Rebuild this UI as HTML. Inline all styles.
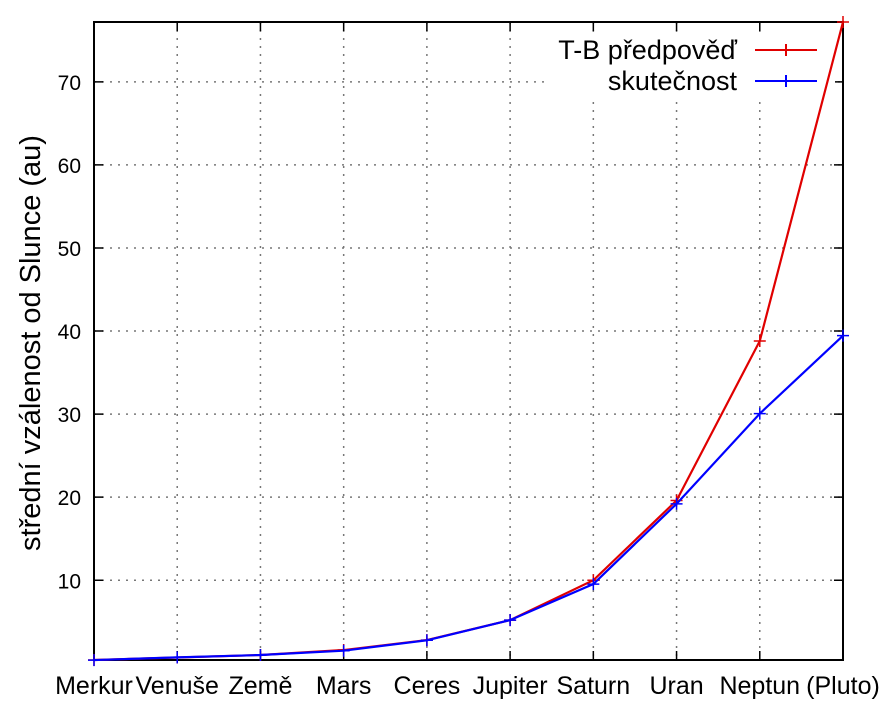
<!DOCTYPE html>
<html><head><meta charset="utf-8"><style>
body{margin:0;background:#fff}
svg text{font-family:"Liberation Sans",sans-serif;fill:#000}
</style></head><body>
<svg id="c" width="894" height="713"></svg>
<script>
const categories=["Merkur","Venuše","Země","Mars","Ceres","Jupiter","Saturn","Uran","Neptun","(Pluto)"];
const tbValues=[0.4,0.7,1.0,1.6,2.8,5.2,10.0,19.6,38.8,77.2];
const realValues=[0.39,0.72,1.0,1.52,2.77,5.2,9.54,19.2,30.06,39.44];
const yTicks=[10,20,30,40,50,60,70];
const seriesNames=["T-B předpověď","skutečnost"];
const L=94,R=843,T=22,B=660,Y0=0.4,Y1=77.2;
const NS="http://www.w3.org/2000/svg";
const svg=document.getElementById('c');
function x(i){return L+i*(R-L)/(categories.length-1);}
function y(v){return B-(v-Y0)*(B-T)/(Y1-Y0);}
function mk(t,a,p){const e=document.createElementNS(NS,t);for(const k in a)e.setAttribute(k,a[k]);(p||svg).appendChild(e);return e;}
categories.forEach((c,i)=>{
 if(i>0&&i<categories.length-1){
  const g=mk('line',{x1:x(i),x2:x(i),y1:T,y2:B,stroke:'#777','stroke-dasharray':'2,6','stroke-width':1.5});
  
  
 }
 const tk=mk('path',{d:`M${x(i)},${B}v-9M${x(i)},${T}v9`,stroke:'#000','stroke-width':1.5});
 
 
 const t=mk('text',{x:x(i),y:694,'text-anchor':'middle','font-size':25});
 t.textContent=c;
 
 
});
yTicks.forEach(v=>{
 const g=mk('line',{x1:L,x2:R,y1:y(v),y2:y(v),stroke:'#777','stroke-dasharray':'2,6','stroke-width':1.5});
 
 
 const tk=mk('path',{d:`M${L},${y(v)}h9M${R},${y(v)}h-9`,stroke:'#000','stroke-width':1.5});
 
 
 const t=mk('text',{x:81,y:y(v)+8,'text-anchor':'end','font-size':21});
 t.textContent=v;
 
 
});
const lb=mk('rect',{x:545,y:32,width:290,height:68,fill:'#fff'});


const fr=mk('rect',{x:L,y:T,width:R-L,height:B-T,fill:'none',stroke:'#000','stroke-width':2});


const yt=mk('text',{transform:'translate(40,343) rotate(-90)','text-anchor':'middle','font-size':29});
yt.textContent='střední vzálenost od Slunce (au)';


function series(vals,col,name,ly){
 const pl=mk('polyline',{points:vals.map((v,i)=>x(i)+','+y(v)).join(' '),fill:'none',stroke:col,'stroke-width':2.2});
 
 
 vals.forEach((v,i)=>{
  const p=mk('path',{d:`M${x(i)-6},${y(v)}h12M${x(i)},${y(v)-6}v12`,stroke:col,'stroke-width':1.5});
  
  
 });
 const le=mk('path',{d:`M755,${ly}h62M786,${ly-6}v12`,stroke:col,'stroke-width':2});
 
 
}
series(tbValues,'#e00000','tb-prediction',50);
series(realValues,'#0000ff','actual',81);
const l1=mk('text',{x:737,y:59,'text-anchor':'end','font-size':27});
l1.textContent=seriesNames[0];


const l2=mk('text',{x:737,y:90,'text-anchor':'end','font-size':27});
l2.textContent=seriesNames[1];


</script>
</body></html>
